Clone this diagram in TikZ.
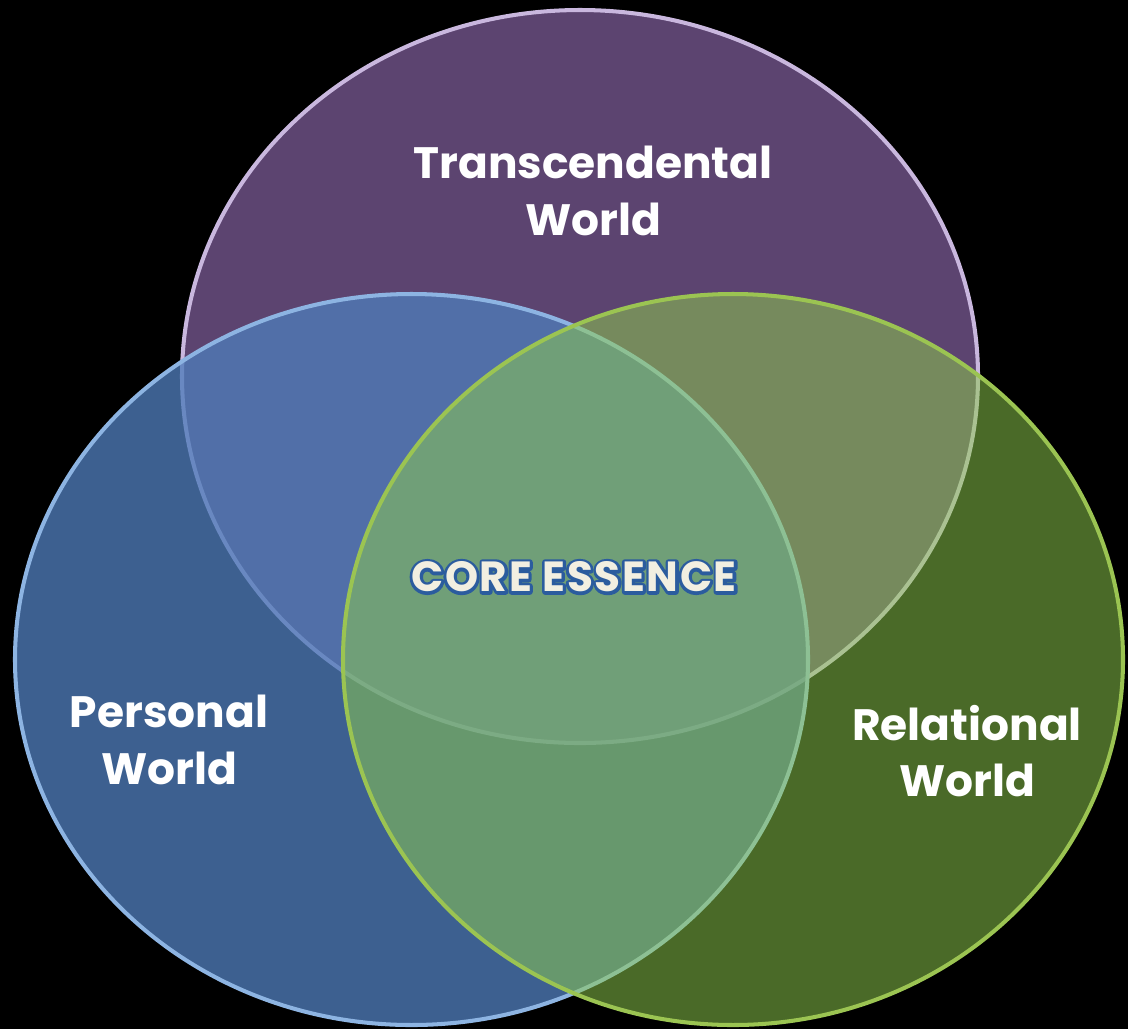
\documentclass[tikz,border=0pt]{standalone}
\usepackage{fontspec}
\newfontfamily\worldfont{Poppins}
\newfontfamily\corefont{Poppins}[LetterSpace=4]

\definecolor{transfill}{HTML}{5C4470}
\definecolor{transrim}{HTML}{C9B7DE}
\definecolor{personalfill}{HTML}{4F7CB9}
\definecolor{personalrim}{HTML}{8DB4E2}
\definecolor{relationalfill}{HTML}{8ECC4D}
\definecolor{relationalrim}{HTML}{9BC452}
\definecolor{corefill}{HTML}{F2EFE1}

% blue stroked copy under the filled text
\newcommand\rimtext[1]{%
  \rlap{\special{pdf:literal direct 1 Tr 3.4 w 1 j 0.17 0.36 0.62 RG}#1%
  \special{pdf:literal direct 0 Tr}}#1}

\begin{document}
\begin{tikzpicture}[x=0.02cm,y=-0.02cm,
  worldrim/.style={line width=2.3pt},
  worldlabel/.style={text=white,align=center,
    font=\worldfont\bfseries\fontsize{25}{32}\selectfont},
  corelabel/.style={text=corefill,
    font=\corefont\bfseries\fontsize{24}{28}\selectfont}]
\fill[black] (0,0) rectangle (1128,1029);

% the three worlds, last one on top
\draw[worldrim,draw=transrim,fill=transfill] (580,376.5) ellipse [x radius=398,y radius=366.5];
\draw[worldrim,draw=personalrim,fill=personalfill,fill opacity=0.78] (411.5,659.5) ellipse [x radius=396.5,y radius=365.5];
\draw[worldrim,draw=relationalrim,fill=relationalfill,fill opacity=0.52] (733,659.5) ellipse [x radius=390,y radius=365.5];

% labels
\node[worldlabel] (transcendental) at (593,191) {Transcendental\\World};
\node[worldlabel] (personal) at (169,740) {Personal\\World};
\node[worldlabel] (relational) at (967,751) {Relational\\World};
\node[corelabel] (core) at (574,577) {\rimtext{CORE ESSENCE}};
\end{tikzpicture}
\end{document}
